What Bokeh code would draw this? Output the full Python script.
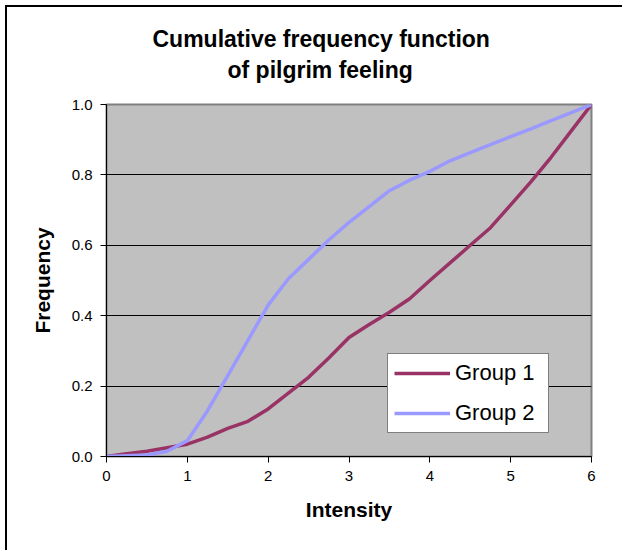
from bokeh.plotting import figure
from bokeh.models import Range1d, FixedTicker, Title, Legend, LegendItem
from bokeh.embed import file_html
from bokeh.resources import INLINE

# Intensity steps and cumulative frequencies for the two groups
intensity = [0, 0.25, 0.5, 0.75, 1, 1.25, 1.5, 1.75, 2, 2.25, 2.5, 2.75, 3,
             3.25, 3.5, 3.75, 4, 4.25, 4.5, 4.75, 5, 5.25, 5.5, 5.75, 6]
group1 = [0.0, 0.008, 0.015, 0.025, 0.035, 0.055, 0.08, 0.10, 0.135, 0.18,
          0.225, 0.28, 0.338, 0.375, 0.41, 0.448, 0.50, 0.55, 0.60, 0.65,
          0.715, 0.78, 0.85, 0.925, 1.0]
group2 = [0.0, 0.002, 0.004, 0.015, 0.045, 0.13, 0.23, 0.33, 0.43, 0.505,
          0.56, 0.615, 0.665, 0.71, 0.755, 0.785, 0.81, 0.84, 0.863, 0.886,
          0.909, 0.931, 0.954, 0.977, 1.0]

x_ticks = [0, 1, 2, 3, 4, 5, 6]
y_ticks = [0.0, 0.2, 0.4, 0.6, 0.8, 1.0]

FONT = "Liberation Sans"

p = figure(width=617, height=545, output_backend="svg", toolbar_location=None,
           x_range=Range1d(0, 6), y_range=Range1d(0, 1),
           min_border_left=99, min_border_right=33,
           min_border_top=97, min_border_bottom=96,
           background_fill_color="#C0C0C0", border_fill_color="white")
p.margin = (5, 0, 0, 5)
p.styles = {"border-left": "2px solid black", "border-top": "2px solid black",
            "border-right": "none", "border-bottom": "none"}

p.outline_line_color = "#808080"
p.outline_line_width = 2

# two-line title; lines are stacked from the frame outwards
p.add_layout(Title(text="of pilgrim feeling", align="left", offset=121,
                   text_font=FONT, text_font_size="23px", text_font_style="bold",
                   text_color="black", standoff=44), "above")
p.add_layout(Title(text="Cumulative frequency function", align="left", offset=46,
                   text_font=FONT, text_font_size="23px", text_font_style="bold",
                   text_color="black", standoff=-38), "above")

p.xgrid.visible = False
p.ygrid.grid_line_color = "black"
p.ygrid.grid_line_width = 1
p.ygrid.ticker = FixedTicker(ticks=y_ticks)

for ax in (p.xaxis[0], p.yaxis[0]):
    ax.axis_line_color = "black"
    ax.axis_line_width = 1
    ax.major_tick_line_color = "black"
    ax.major_tick_out = 6
    ax.major_tick_in = 0
    ax.minor_tick_line_color = None
    ax.major_label_text_font = FONT
    ax.major_label_text_font_size = "15px"
    ax.major_label_text_color = "black"
    ax.axis_label_text_font = FONT
    ax.axis_label_text_font_size = "21px"
    ax.axis_label_text_font_style = "bold"
    ax.axis_label_text_color = "black"

p.xaxis.ticker = FixedTicker(ticks=x_ticks)
p.xaxis.major_label_overrides = {t: str(t) for t in x_ticks}
p.xaxis.axis_label = "Intensity"
p.xaxis.major_label_standoff = 8
p.xaxis.axis_label_standoff = 14

p.yaxis.ticker = FixedTicker(ticks=y_ticks)
p.yaxis.major_label_overrides = {t: f"{t:.1f}" for t in y_ticks}
p.yaxis.axis_label = "Frequency"
p.yaxis.major_label_standoff = 8
p.yaxis.axis_label_standoff = 15

r1 = p.line(intensity, group1, line_color="#993366", line_width=3.5)
r2 = p.line(intensity, group2, line_color="#9999FF", line_width=3.5)

legend = Legend(items=[LegendItem(label="Group 1", renderers=[r1]),
                       LegendItem(label="Group 2", renderers=[r2])],
                location=(281, 23), orientation="vertical",
                label_text_font=FONT, label_text_font_size="22px",
                label_text_color="black",
                glyph_width=56, glyph_height=24, label_height=24, label_width=87,
                label_standoff=5, spacing=14, padding=6, margin=0,
                border_line_color="black", border_line_width=1,
                background_fill_color="white", background_fill_alpha=1)
p.add_layout(legend, "center")

open("out.html", "w").write(file_html(p, INLINE))
